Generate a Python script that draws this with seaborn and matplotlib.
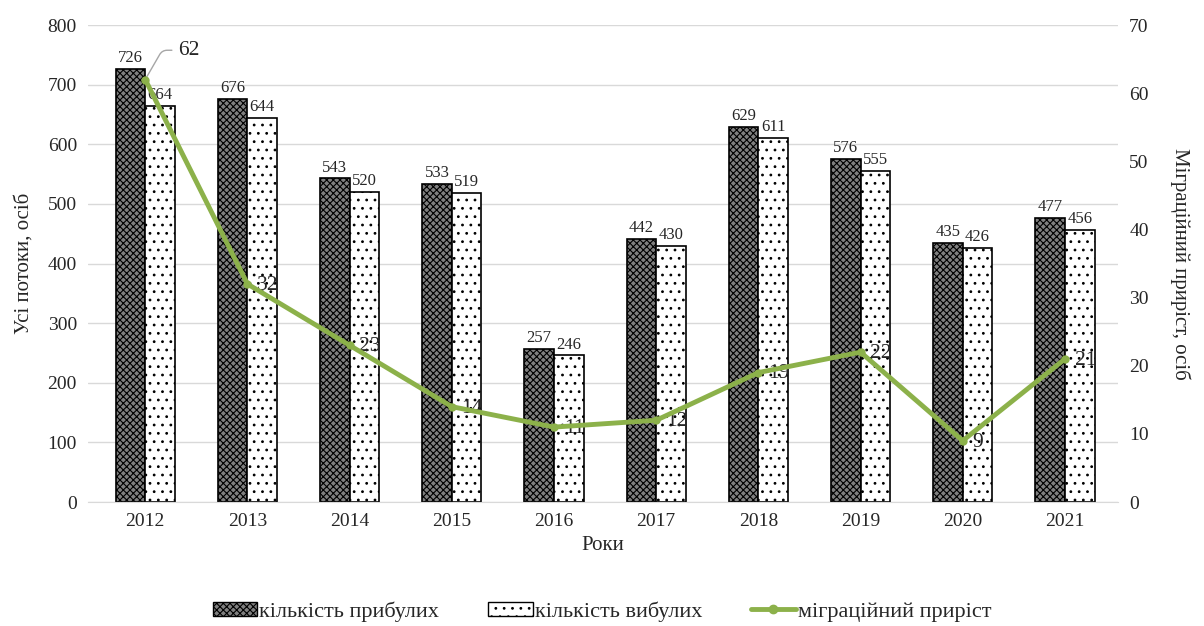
import numpy as np
import pandas as pd
import matplotlib
matplotlib.use("Agg")
import matplotlib.pyplot as plt
import seaborn as sns
from matplotlib.patches import Patch
from matplotlib.lines import Line2D

years = ['2012', '2013', '2014', '2015', '2016', '2017', '2018', '2019', '2020', '2021']
arrived = [726, 676, 543, 533, 257, 442, 629, 576, 435, 477]
departed = [664, 644, 520, 519, 246, 430, 611, 555, 426, 456]
growth = [62, 32, 23, 14, 11, 12, 19, 22, 9, 21]

lab_arr = 'кількість прибулих'
lab_dep = 'кількість вибулих'
lab_gr = 'міграційний приріст'

sns.set_style('white')
plt.rcParams['font.family'] = ['Liberation Serif', 'DejaVu Serif']
plt.rcParams['hatch.linewidth'] = 0.8

df = pd.DataFrame({'year': years * 2,
                   'value': arrived + departed,
                   'kind': [lab_arr] * len(years) + [lab_dep] * len(years)})

fig = plt.figure(figsize=(12.04, 6.26), dpi=100)
ax = fig.add_axes([0.0731, 0.198, 0.8555, 0.762])

sns.barplot(data=df, x='year', y='value', hue='kind', width=0.58,
            palette=['#808080', 'white'], edgecolor='black', linewidth=1.2,
            legend=False, ax=ax, zorder=2)

n = len(years)
for i, p in enumerate(ax.patches[:2 * n]):
    if i < n:
        p.set_hatch('xxxxx')
    else:
        p.set_hatch('..')

for c in ax.containers:
    ax.bar_label(c, fontsize=12, padding=2)

ax.set_ylim(0, 800)
ax.set_yticks(range(0, 801, 100))
ax.grid(axis='y', color='#d9d9d9', lw=1, zorder=0)
ax.set_axisbelow(True)
for s in ['top', 'right', 'left']:
    ax.spines[s].set_visible(False)
ax.spines['bottom'].set_color('#d9d9d9')
ax.tick_params(axis='both', labelsize=14, length=0, pad=8)
ax.set_xlabel('Роки', fontsize=15, labelpad=4)
ax.set_ylabel('Усі потоки, осіб', fontsize=15, labelpad=10)
ax.set_xlim(-0.56, n - 0.48)

ax2 = ax.twinx()
x = np.arange(n)
sns.lineplot(x=x, y=growth, ax=ax2, color='#8cb14a', lw=3.5, marker='o',
             markersize=6, markeredgewidth=0, zorder=5)
ax2.set_ylim(0, 70)
ax2.set_yticks(range(0, 71, 10))
for s in ax2.spines.values():
    s.set_visible(False)
ax2.tick_params(axis='y', labelsize=14, length=0, pad=8)
ax2.set_ylabel('Міграційний приріст, осіб', fontsize=15, rotation=270, labelpad=30)

for i, g in enumerate(growth):
    if i == 0:
        ax2.annotate(str(g), xy=(x[i], g), xytext=(x[i] + 0.32, 66.3),
                     fontsize=15.5, va='center', ha='left',
                     arrowprops=dict(arrowstyle='-', color='#a6a6a6', lw=1,
                                     connectionstyle='angle,angleA=0,angleB=60,rad=5'))
    else:
        ax2.annotate(str(g), xy=(x[i], g), xytext=(7, -1), textcoords='offset points',
                     fontsize=15.5, va='center', ha='left')

handles = [Patch(facecolor='#808080', edgecolor='black', hatch='xxxxx', label=lab_arr),
           Patch(facecolor='white', edgecolor='black', hatch='..', label=lab_dep),
           Line2D([0], [0], color='#8cb14a', lw=3.5, marker='o', markersize=6, label=lab_gr)]
fig.legend(handles=handles, loc='lower center', bbox_to_anchor=(0.5, -0.025), ncol=3,
           frameon=False, fontsize=16, handlelength=2.0, handleheight=0.6,
           handletextpad=0.1, columnspacing=2.2)

fig.savefig('out.png', dpi=100)
